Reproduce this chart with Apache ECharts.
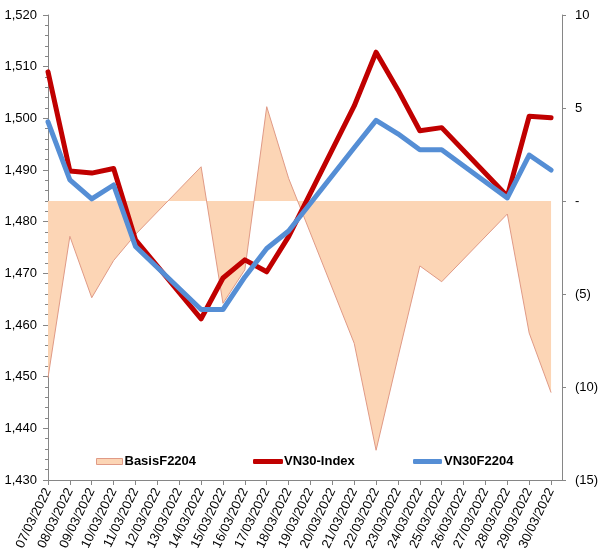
<!DOCTYPE html>
<html>
<head>
<meta charset="utf-8">
<script src="https://cdn.jsdelivr.net/npm/echarts@6/dist/echarts.min.js"></script>
<style>
html,body{margin:0;padding:0;background:#fff;}
#chart{width:604px;height:559px;}
</style>
</head>
<body>
<div id="chart"></div>
<script>
// Calendar days on the x axis (weekends carry no data)
const dates = ['07/03/2022','08/03/2022','09/03/2022','10/03/2022','11/03/2022','12/03/2022','13/03/2022','14/03/2022','15/03/2022','16/03/2022','17/03/2022','18/03/2022','19/03/2022','20/03/2022','21/03/2022','22/03/2022','23/03/2022','24/03/2022','25/03/2022','26/03/2022','27/03/2022','28/03/2022','29/03/2022','30/03/2022'];
const vn30Index = [1509.0, 1489.8, 1489.4, 1490.3, 1476.5, null, null, 1461.2, 1469.1, 1472.6, 1470.3, 1477.1, null, null, 1502.4, 1512.8, 1505.5, 1497.6, 1498.2, null, null, 1484.9, 1500.4, 1500.1];
const vn30F2204 = [1499.3, 1488.1, 1484.4, 1487.1, 1475.2, null, null, 1463.0, 1463.0, 1469.3, 1474.8, 1478.2, null, null, 1494.3, 1499.6, 1497.0, 1493.9, 1493.9, null, null, 1484.6, 1492.9, 1490.0];
const basisF2204 = [-9.5, -1.9, -5.2, -3.2, -1.8, null, null, 1.84, -5.5, -3.7, 5.07, 1.22, null, null, -7.65, -13.4, -8.4, -3.49, -4.34, null, null, -0.7, -7.1, -10.3];
const leftTicks = [1430, 1520, 10];   // min, max, step
const rightTicks = [-15, 10, 5];      // min, max, step

function pairs(arr) {
  const out = [];
  arr.forEach((v, i) => { if (v !== null) out.push([i, v]); });
  return out;
}
const dayIdx = dates.map((d, i) => i);
const FONT = "'Liberation Sans', Arial, sans-serif";
const axisGray = '#868686';

const chart = echarts.init(document.getElementById('chart'), null, {renderer: 'canvas'});
chart.setOption({
  animation: false,
  backgroundColor: '#fff',
  textStyle: {fontFamily: FONT},
  grid: {left: 48, right: 42, top: 15, bottom: 79, outerBoundsMode: 'none', containLabel: false},
  xAxis: {
    type: 'value', min: 0, max: dates.length - 0.5, interval: 1,
    splitLine: {show: false},
    axisLine: {show: true, onZero: false, lineStyle: {color: axisGray, width: 1}},
    axisTick: {show: true, length: 5, lineStyle: {color: axisGray}, customValues: dayIdx},
    axisLabel: {
      customValues: dayIdx,
      rotate: 64, margin: 9, fontSize: 13, fontFamily: FONT, color: '#000',
      showMinLabel: true, showMaxLabel: true, hideOverlap: false,
      formatter: v => Number.isInteger(v) ? dates[v] : ''
    }
  },
  yAxis: [{
    type: 'value', min: leftTicks[0], max: leftTicks[1], interval: leftTicks[2],
    position: 'left',
    splitLine: {show: false},
    axisLine: {show: true, lineStyle: {color: axisGray}},
    axisTick: {show: true, length: 5, lineStyle: {color: axisGray}},
    minorTick: {show: true, splitNumber: 5, length: 3, lineStyle: {color: axisGray}},
    axisLabel: {margin: 11, fontSize: 13, fontFamily: FONT, color: '#000',
      formatter: v => v.toLocaleString('en-US')}
  }, {
    type: 'value', min: rightTicks[0], max: rightTicks[1], interval: rightTicks[2],
    position: 'right',
    splitLine: {show: false},
    axisLine: {show: true, lineStyle: {color: axisGray}},
    axisTick: {show: true, length: 4, lineStyle: {color: axisGray}},
    axisLabel: {margin: 13, fontSize: 13, fontFamily: FONT, color: '#000',
      formatter: v => v === 0 ? '-' : (v < 0 ? '(' + (-v) + ')' : String(v))}
  }],
  legend: [{
    data: [{name: 'BasisF2204', icon: 'rect'}],
    left: 96, top: 455, padding: 0, itemWidth: 26, itemHeight: 6,
    itemStyle: {color: '#FCD5B5', borderColor: '#E09A86', borderWidth: 1},
    textStyle: {fontSize: 13, fontWeight: 'bold', color: '#000', fontFamily: FONT, padding: [0,0,0,-3]}
  }, {
    data: [{name: 'VN30-Index', icon: 'roundRect'}],
    left: 253, top: 455, padding: 0, itemWidth: 30, itemHeight: 5,
    textStyle: {fontSize: 13, fontWeight: 'bold', color: '#000', fontFamily: FONT, padding: [0,0,0,-4]}
  }, {
    data: [{name: 'VN30F2204', icon: 'roundRect'}],
    left: 413, top: 455, padding: 0, itemWidth: 29, itemHeight: 5,
    textStyle: {fontSize: 13, fontWeight: 'bold', color: '#000', fontFamily: FONT, padding: [0,0,0,-3]}
  }],
  series: [{
    name: 'BasisF2204', type: 'line', yAxisIndex: 1,
    data: pairs(basisF2204),
    symbol: 'none', silent: true,
    lineStyle: {color: '#E09A86', width: 1},
    itemStyle: {color: '#FCD5B5'},
    areaStyle: {color: '#FCD5B5', opacity: 1, origin: 0},
    z: 1
  }, {
    name: 'VN30-Index', type: 'line', yAxisIndex: 0,
    data: pairs(vn30Index),
    symbol: 'none',
    lineStyle: {color: '#C00000', width: 5, join: 'round', cap: 'round'},
    itemStyle: {color: '#C00000'},
    z: 3
  }, {
    name: 'VN30F2204', type: 'line', yAxisIndex: 0,
    data: pairs(vn30F2204),
    symbol: 'none',
    lineStyle: {color: '#558ED5', width: 5, join: 'round', cap: 'round'},
    itemStyle: {color: '#558ED5'},
    z: 4
  }]
});
</script>
</body>
</html>
